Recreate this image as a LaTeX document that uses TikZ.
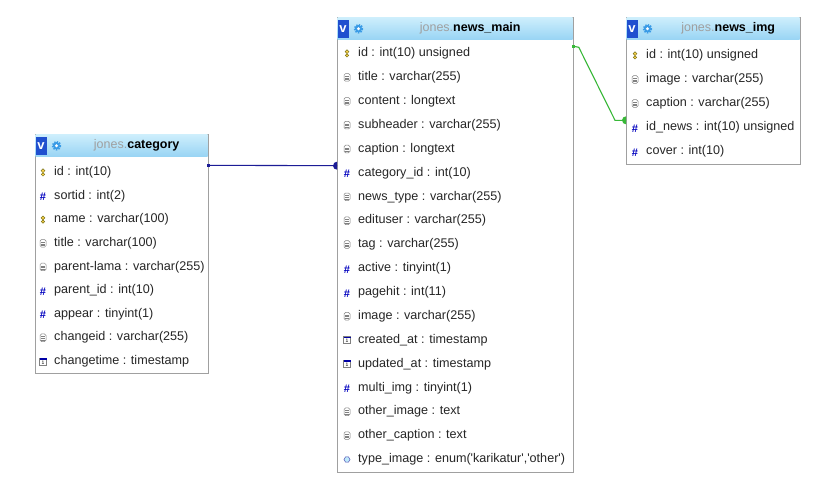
\documentclass[tikz,border=0pt]{standalone}
\usepackage{fontspec}
\setmainfont{Liberation Sans}
\usepackage{xcolor}
\usepackage{tikz}

\definecolor{hdrtop}{HTML}{CDEEFC}
\definecolor{hdrbot}{HTML}{98D4F4}
\definecolor{vblue}{HTML}{1F4FCF}
\definecolor{gearblue}{HTML}{3A9BE6}
\definecolor{fknavy}{HTML}{1C1C96}
\definecolor{fkgreen}{HTML}{38B838}
\definecolor{tblgray}{HTML}{A0A0A0}

\tikzset{
    pk/.pic={
        \draw[olive!80!black, fill=yellow!55!orange!70, line width=0.5pt] (0,-1.8) circle (1.9);
        \draw[olive!80!black, fill=yellow!55!orange!70, line width=0.5pt] (0,1.9) circle (1.7);
    },
    txt/.pic={
        \draw[gray, line width=0.5pt, rounded corners=1.5pt] (-3,-3.8) rectangle (3,3.8);
        \draw[gray, line width=0.4pt] (-1.6,-1.2) -- (1.6,-1.2) (-1.6,0.4) -- (1.6,0.4) (-1.6,2) -- (1.6,2);
    },
    num/.pic={
        \node[inner sep=0pt, text=blue!75!black, font=\bfseries\fontsize{11}{11}\selectfont] at (0,1) {\#};
    },
    tstamp/.pic={
        \draw[gray, line width=0.5pt] (-3.5,-3.5) rectangle (3.5,3.5);
        \fill[blue!65!black] (-3.5,-3.5) rectangle (3.5,-1.8);
        \node[inner sep=0pt, font=\fontsize{5}{5}\selectfont] at (0,1) {1};
    },
    enm/.pic={
        \draw[gray!60!blue, fill=cyan!25, line width=0.5pt] (-3,0) -- (-1.5,-2.6) -- (1.5,-2.6) -- (3,0) -- (1.5,2.6) -- (-1.5,2.6) -- cycle;
    },
    gear/.pic={
        \draw[gearblue, line width=1.8pt, dash pattern=on 1.4pt off 1.2pt] (0,0) circle (3.9);
        \fill[gearblue] (0,0) circle (3.6);
        \fill[white] (0,0) circle (1.6);
    }
}

\newcommand{\field}[5]{\pic at (#3-11,#4+1.5) {#2}; \node[row] (#1) at (#3,#4) {#5};}

\begin{document}
\begin{tikzpicture}[x=1pt, y=-1pt,
    tbl/.style={draw=tblgray, fill=white, anchor=north west, inner sep=0pt, line width=0.8pt},
    hdr/.style={top color=hdrtop, bottom color=hdrbot, anchor=north west, inner sep=0pt},
    ttl/.style={inner sep=0pt, font=\fontsize{12.5}{14}\selectfont},
    vicon/.style={fill=vblue, text=white, inner sep=0pt, minimum width=11pt, minimum height=18pt, font=\bfseries\fontsize{13}{13}\selectfont},
    row/.style={anchor=west, inner sep=0pt, minimum height=14pt, yshift=-1.5pt, font=\fontsize{12.6}{15}\selectfont, text=black!85},
    fk/.style={line width=1.1pt}]
    \fill[white] (0,0) rectangle (830,496);
    \useasboundingbox (0,0) rectangle (830,496);

    % category
    \node[tbl, minimum width=173pt, minimum height=239pt] (cat) at (35,134) {};
    \node[hdr, minimum width=172pt, minimum height=22pt] (cath) at ([shift={(0.5pt,-0.5pt)}]cat.north west) {};
    \node[vicon] (catv) at ([xshift=5.5pt]cath.west) {v};
    \pic at ([xshift=21pt]cath.west) {gear};
    \node[ttl] (catt) at ([xshift=15pt]cath.center) {{\color{gray!75}jones.}\textbf{category}};
    \field{c1}{pk}{54}{171}{id : int(10)}
    \field{c2}{num}{54}{194.6}{sortid : int(2)}
    \field{c3}{pk}{54}{218.2}{name : varchar(100)}
    \field{c4}{txt}{54}{241.8}{title : varchar(100)}
    \field{c5}{txt}{54}{265.4}{parent-lama : varchar(255)}
    \field{c6}{num}{54}{289}{parent\_id : int(10)}
    \field{c7}{num}{54}{312.6}{appear : tinyint(1)}
    \field{c8}{txt}{54}{336.2}{changeid : varchar(255)}
    \field{c9}{tstamp}{54}{359.8}{changetime : timestamp}

    % news_main
    \node[tbl, minimum width=236pt, minimum height=455pt] (nm) at (337,17) {};
    \node[hdr, minimum width=235pt, minimum height=22pt] (nmh) at ([shift={(0.5pt,-0.5pt)}]nm.north west) {};
    \node[vicon] (nmv) at ([xshift=5.5pt]nmh.west) {v};
    \pic at ([xshift=21pt]nmh.west) {gear};
    \node[ttl] (nmt) at ([xshift=15pt]nmh.center) {{\color{gray!75}jones.}\textbf{news\_main}};
    \field{m1}{pk}{358}{52}{id : int(10) unsigned}
    \field{m2}{txt}{358}{75.9}{title : varchar(255)}
    \field{m3}{txt}{358}{99.8}{content : longtext}
    \field{m4}{txt}{358}{123.6}{subheader : varchar(255)}
    \field{m5}{txt}{358}{147.5}{caption : longtext}
    \field{m6}{num}{358}{171.4}{category\_id : int(10)}
    \field{m7}{txt}{358}{195.3}{news\_type : varchar(255)}
    \field{m8}{txt}{358}{219.2}{edituser : varchar(255)}
    \field{m9}{txt}{358}{243}{tag : varchar(255)}
    \field{m10}{num}{358}{266.9}{active : tinyint(1)}
    \field{m11}{num}{358}{290.8}{pagehit : int(11)}
    \field{m12}{txt}{358}{314.7}{image : varchar(255)}
    \field{m13}{tstamp}{358}{338.6}{created\_at : timestamp}
    \field{m14}{tstamp}{358}{362.4}{updated\_at : timestamp}
    \field{m15}{num}{358}{386.3}{multi\_img : tinyint(1)}
    \field{m16}{txt}{358}{410.2}{other\_image : text}
    \field{m17}{txt}{358}{434.1}{other\_caption : text}
    \field{m18}{enm}{358}{458}{type\_image : enum(\textquotesingle karikatur\textquotesingle,\textquotesingle other\textquotesingle)}

    % news_img
    \node[tbl, minimum width=174pt, minimum height=147pt] (img) at (626,17) {};
    \node[hdr, minimum width=173pt, minimum height=22pt] (imgh) at ([shift={(0.5pt,-0.5pt)}]img.north west) {};
    \node[vicon] (imgv) at ([xshift=5.5pt]imgh.west) {v};
    \pic at ([xshift=21pt]imgh.west) {gear};
    \node[ttl] (imgt) at ([xshift=15pt]imgh.center) {{\color{gray!75}jones.}\textbf{news\_img}};
    \field{i1}{pk}{646}{54}{id : int(10) unsigned}
    \field{i2}{txt}{646}{78}{image : varchar(255)}
    \field{i3}{txt}{646}{102}{caption : varchar(255)}
    \field{i4}{num}{646}{126}{id\_news : int(10) unsigned}
    \field{i5}{num}{646}{150}{cover : int(10)}

    % relations
    \coordinate (r1a) at (cat.east |- c1.north);
    \coordinate (r1b) at (nm.west |- m6.north);
    \draw[fk, fknavy] (r1a) -- (r1b);
    \fill[fknavy] ([shift={(-1.5pt,1.5pt)}]r1a) rectangle ([shift={(1.5pt,-1.5pt)}]r1a);
    \fill[fknavy] (r1b) ++(0,4) arc (90:270:4) -- cycle;

    \coordinate (r2a) at (nm.east |- m1.north);
    \coordinate (r2b) at (img.west |- i4.north);
    \draw[fk, fkgreen] (r2a) -- ([shift={(5pt,-1pt)}]r2a) -- ([xshift=-11pt]r2b) -- (r2b);
    \fill[fkgreen] ([shift={(-1.5pt,1.5pt)}]r2a) rectangle ([shift={(1.5pt,-1.5pt)}]r2a);
    \fill[fkgreen] (r2b) ++(0,4) arc (90:270:4) -- cycle;
\end{tikzpicture}
\end{document}
